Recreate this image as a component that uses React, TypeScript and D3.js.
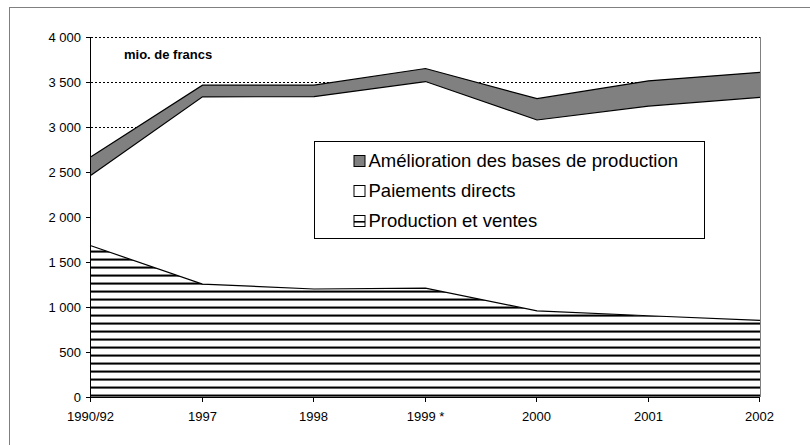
import React, { useEffect, useRef } from 'react';
import * as d3 from 'd3';

// categories along the x axis
const years = ['1990/92', '1997', '1998', '1999 *', '2000', '2001', '2002'];

// series values, mio. de francs
const productionVentes = [1680, 1255, 1200, 1210, 958, 903, 852];
const paiementsDirects = [785, 2080, 2137, 2295, 2120, 2330, 2478];
const ameliorationBases = [205, 130, 128, 145, 237, 280, 277];

const yTicks = [0, 500, 1000, 1500, 2000, 2500, 3000, 3500, 4000];
const gridTicks = [3000, 3500, 4000];

const legendItems = ['Amélioration des bases de production', 'Paiements directs', 'Production et ventes'];

const fmt = (v: number) => (v >= 1000 ? d3.format(',')(v).replace(',', ' ') : String(v));

const App = () => {
  const svgRef = useRef<SVGSVGElement>(null);

  useEffect(() => {
    const svg = d3.select(svgRef.current);
    svg.selectAll('*').remove();

    const width = 810;
    const height = 445;
    const margin = { top: 37, right: 50, bottom: 48, left: 91 };
    const chartW = width - margin.left - margin.right;
    const chartH = height - margin.top - margin.bottom;
    const font = "'Liberation Sans', Arial, sans-serif";

    // outer frame (runs off the right and bottom edges)
    svg.append('rect')
      .attr('x', 9.5).attr('y', 7.5)
      .attr('width', 820).attr('height', 460)
      .attr('fill', '#fff')
      .attr('stroke', '#808080').attr('stroke-width', 1);

    const defs = svg.append('defs');
    const pat = defs.append('pattern')
      .attr('id', 'hatch')
      .attr('patternUnits', 'userSpaceOnUse')
      .attr('width', 8).attr('height', 8)
      .attr('y', 384);
    pat.append('rect').attr('width', 8).attr('height', 8).attr('fill', '#fff');
    pat.append('rect').attr('y', 5).attr('width', 8).attr('height', 1).attr('fill', '#888');
    pat.append('rect').attr('y', 6).attr('width', 8).attr('height', 1.6).attr('fill', '#000');

    const g = svg.append('g').attr('transform', `translate(${margin.left},${margin.top})`);

    const x = d3.scalePoint<string>().domain(years).range([0, chartW]);
    const y = d3.scaleLinear().domain([0, 4000]).range([chartH, 0]);

    // dotted grid lines
    g.selectAll('.grid')
      .data(gridTicks)
      .enter().append('line')
      .attr('x1', 0).attr('x2', chartW)
      .attr('y1', d => Math.round(y(d)) + 0.5).attr('y2', d => Math.round(y(d)) + 0.5)
      .attr('stroke', '#000').attr('stroke-width', 1)
      .attr('stroke-dasharray', '2,2');

    // plot right edge
    g.append('line')
      .attr('x1', chartW + 0.5).attr('x2', chartW + 0.5)
      .attr('y1', 0).attr('y2', chartH)
      .attr('stroke', '#808080');

    const rows = years.map((yr, i) => ({
      yr,
      p: productionVentes[i],
      d: productionVentes[i] + paiementsDirects[i],
      a: productionVentes[i] + paiementsDirects[i] + ameliorationBases[i],
    }));

    const area = (lo: (r: any) => number, hi: (r: any) => number) =>
      d3.area<any>().x(r => x(r.yr) as number).y0(r => y(lo(r))).y1(r => y(hi(r)));
    const line = (v: (r: any) => number) =>
      d3.line<any>().x(r => x(r.yr) as number).y(r => y(v(r)));

    g.append('path').datum(rows)
      .attr('fill', 'url(#hatch)')
      .attr('d', area(() => 0, r => r.p));
    g.append('path').datum(rows)
      .attr('fill', '#fff')
      .attr('d', area(r => r.p, r => r.d));
    g.append('path').datum(rows)
      .attr('fill', '#808080')
      .attr('d', area(r => r.d, r => r.a));

    [(r: any) => r.p, (r: any) => r.d, (r: any) => r.a].forEach(fn => {
      g.append('path').datum(rows)
        .attr('fill', 'none').attr('stroke', '#000').attr('stroke-width', 1.2)
        .attr('d', line(fn));
    });

    // y axis
    g.append('line')
      .attr('x1', -0.5).attr('x2', -0.5).attr('y1', 0).attr('y2', chartH + 0.5)
      .attr('stroke', '#000');
    const yt = g.selectAll('.yt').data(yTicks).enter().append('g')
      .attr('transform', d => `translate(0,${Math.round(y(d)) + 0.5})`);
    yt.append('line').attr('x1', -5).attr('x2', 0).attr('stroke', '#000');
    yt.append('text')
      .attr('x', -10).attr('dy', '0.35em')
      .attr('text-anchor', 'end')
      .style('font-family', font).style('font-size', '13px')
      .text(d => fmt(d));

    // x axis
    g.append('line')
      .attr('x1', 0).attr('x2', chartW).attr('y1', chartH + 0.5).attr('y2', chartH + 0.5)
      .attr('stroke', '#000');
    const xt = g.selectAll('.xt').data(years).enter().append('g')
      .attr('transform', d => `translate(${Math.round(x(d) as number) - 0.5},${chartH})`);
    xt.append('line').attr('y1', 0).attr('y2', 5).attr('stroke', '#000');
    xt.append('text')
      .attr('y', 24)
      .attr('text-anchor', 'middle')
      .style('font-family', font).style('font-size', '13px')
      .text(d => d);

    // unit label
    g.append('text')
      .attr('x', 33).attr('y', 22)
      .style('font-family', font).style('font-size', '13px').style('font-weight', 'bold')
      .text('mio. de francs');

    // legend
    const lg = svg.append('g').attr('transform', 'translate(314.5,141.5)');
    lg.append('rect').attr('width', 390).attr('height', 97)
      .attr('fill', '#fff').attr('stroke', '#000');
    const fills = ['#808080', '#fff', 'url(#legHatch)'];
    const lh = defs.append('pattern')
      .attr('id', 'legHatch').attr('patternUnits', 'userSpaceOnUse')
      .attr('width', 11).attr('height', 11)
      .attr('x', 354).attr('y', 215);
    lh.append('rect').attr('width', 11).attr('height', 11).attr('fill', '#fff');
    lh.append('rect').attr('y', 5).attr('width', 11).attr('height', 1.6).attr('fill', '#000');
    const li = lg.selectAll('.li').data(legendItems).enter().append('g')
      .attr('transform', (d, i) => `translate(0,${19.5 + i * 30})`);
    li.append('rect')
      .attr('x', 39.5).attr('y', -5.5).attr('width', 11).attr('height', 11)
      .attr('fill', (d, i) => fills[i]).attr('stroke', '#000');
    li.append('text')
      .attr('x', 54).attr('dy', '0.35em')
      .style('font-family', font).style('font-size', '18.5px')
      .text(d => d);
  }, []);

  return (
    <svg ref={svgRef} width={810} height={445}
      style={{ position: 'absolute', left: 0, top: 0, display: 'block', background: '#fff' }} />
  );
};

export default App;
